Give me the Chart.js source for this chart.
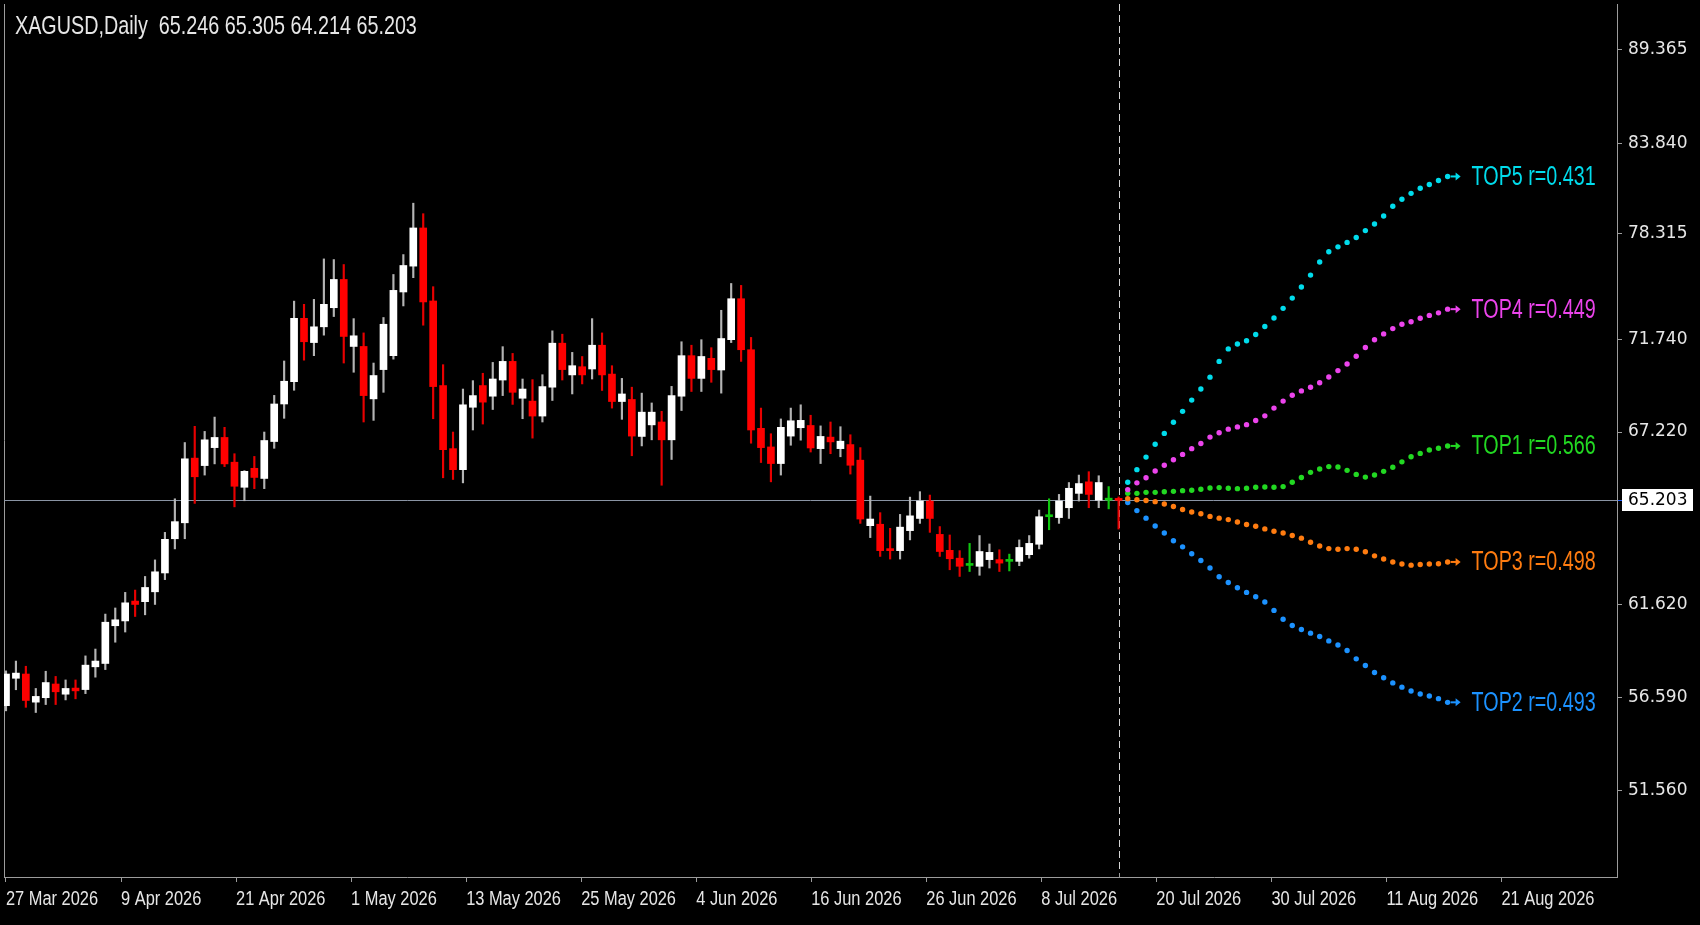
<!DOCTYPE html>
<html>
<head>
<meta charset="utf-8">
<title>XAGUSD Daily</title>
<script src="https://cdn.jsdelivr.net/npm/chart.js@4.4.1/dist/chart.umd.min.js"></script>
<style>
    html, body { margin: 0; padding: 0; background: #000; }
    canvas { display: block; background: #000; }
</style>
</head>
<body>
<canvas id="chart" width="1700" height="925"></canvas>
<script>
const symbol = "XAGUSD";
const period = "Daily";

// daily candles, one entry per bar
const open = [
    56.14, 57.62, 57.85, 56.33, 56.57, 57.31, 56.76, 57.09, 57.01, 58.24,
    58.42, 60.46, 60.72, 61.73, 61.71, 62.05, 62.70, 63.88, 64.43, 66.45,
    66.23, 66.76, 67.06, 66.33, 65.59, 66.15, 65.85, 66.94, 68.59, 69.68,
    73.06, 71.59, 72.53, 73.72, 75.48, 71.40, 71.40, 68.84, 70.27, 70.95,
    74.70, 76.31, 78.68, 74.14, 69.49, 66.73, 66.11, 68.43, 69.49, 68.97,
    69.76, 70.67, 68.87, 68.73, 68.00, 69.41, 71.56, 70.01, 70.41, 70.30,
    71.46, 70.05, 68.71, 68.81, 67.09, 67.57, 67.71, 66.99, 68.97, 70.95,
    69.84, 70.82, 70.25, 71.73, 74.28, 71.24, 67.40, 66.78, 66.29, 67.10,
    67.43, 67.54, 66.73, 67.07, 66.73, 66.85, 66.39, 64.33, 64.38, 63.53,
    63.47, 64.16, 64.58, 65.18, 64.03, 63.48, 63.21, 62.96, 62.93, 63.16,
    63.16, 63.10, 63.10, 63.33, 63.69, 64.64, 64.61, 64.95, 65.41, 65.75,
    65.21, 65.21, 65.246
];
const high = [
    58.02, 58.55, 58.27, 57.07, 58.00, 57.72, 57.53, 57.53, 58.83, 59.20,
    61.09, 61.42, 62.03, 62.11, 62.58, 63.15, 64.10, 65.25, 66.91, 67.50,
    67.25, 67.95, 67.45, 66.58, 66.08, 66.50, 67.22, 69.01, 70.69, 74.13,
    73.93, 74.24, 76.76, 76.72, 76.41, 73.04, 72.15, 70.59, 73.11, 75.79,
    77.03, 80.19, 79.55, 75.03, 70.51, 67.22, 69.32, 69.73, 70.09, 70.62,
    71.39, 71.06, 69.81, 69.78, 70.02, 72.28, 72.07, 71.11, 70.91, 73.04,
    72.15, 70.46, 69.84, 69.41, 69.12, 68.64, 68.23, 69.45, 71.63, 71.46,
    71.73, 71.34, 73.56, 75.23, 75.11, 71.87, 68.39, 67.17, 67.86, 68.39,
    68.55, 68.04, 67.52, 67.71, 67.48, 67.14, 66.76, 65.33, 64.78, 64.24,
    64.72, 65.30, 65.46, 65.36, 64.30, 64.01, 63.47, 63.72, 63.99, 63.70,
    63.50, 63.35, 63.84, 63.99, 64.87, 65.25, 65.38, 65.73, 65.95, 66.05,
    65.93, 65.61, 65.305
];
const low = [
    55.86, 57.00, 56.05, 55.77, 56.20, 56.20, 56.45, 56.51, 56.79, 57.68,
    58.09, 59.57, 60.12, 60.96, 61.05, 61.61, 62.47, 63.53, 63.88, 65.10,
    65.95, 66.28, 66.20, 64.98, 65.19, 65.55, 65.55, 66.74, 67.89, 69.26,
    70.73, 70.95, 72.01, 73.17, 70.59, 70.14, 67.71, 67.79, 69.16, 70.78,
    73.83, 75.59, 72.63, 67.87, 65.87, 65.82, 65.72, 67.32, 67.61, 68.32,
    69.00, 68.57, 67.87, 67.04, 67.71, 68.76, 69.76, 69.08, 69.57, 69.81,
    69.25, 68.39, 67.84, 66.52, 66.81, 66.99, 65.65, 66.41, 68.27, 69.20,
    69.20, 69.65, 69.12, 71.59, 70.67, 66.89, 66.32, 65.75, 65.95, 66.83,
    66.98, 66.63, 66.29, 66.58, 66.49, 65.98, 64.41, 63.92, 63.27, 63.18,
    63.18, 63.84, 64.41, 64.10, 63.27, 62.81, 62.58, 62.75, 62.62, 62.87,
    62.75, 62.77, 62.95, 63.21, 63.53, 64.19, 64.41, 64.58, 65.18, 64.95,
    64.95, 64.91, 64.214
];
const close = [
    57.85, 57.90, 56.42, 56.64, 57.39, 56.89, 57.07, 56.94, 58.33, 58.55,
    60.65, 60.78, 61.67, 61.61, 62.20, 62.74, 63.86, 64.47, 66.43, 65.90,
    66.99, 67.06, 66.28, 65.62, 66.06, 65.88, 66.97, 68.59, 69.70, 73.06,
    71.63, 72.53, 73.93, 75.48, 71.93, 71.97, 69.00, 69.98, 72.69, 74.80,
    76.35, 78.68, 74.08, 69.44, 66.70, 66.11, 68.55, 69.00, 68.68, 69.81,
    70.67, 69.16, 69.32, 68.00, 69.44, 71.56, 70.27, 70.46, 70.01, 71.46,
    70.01, 68.71, 69.08, 67.10, 68.19, 68.19, 66.99, 69.00, 70.95, 69.84,
    70.91, 70.27, 71.80, 74.28, 71.24, 67.32, 66.76, 66.29, 67.45, 67.77,
    67.79, 66.75, 67.09, 66.93, 66.95, 66.24, 64.56, 64.56, 63.47, 63.47,
    64.28, 64.67, 65.18, 64.58, 63.44, 63.19, 62.93, 62.96, 63.44, 63.41,
    63.04, 63.10, 63.58, 63.72, 64.64, 64.64, 65.18, 65.56, 65.70, 65.38,
    65.73, 65.21, 65.203
];

// analog projections drawn forward from the last bar
const top1 = [65.41, 65.41, 65.44, 65.44, 65.46, 65.47, 65.49, 65.50, 65.53, 65.57, 65.58, 65.56,
    65.55, 65.56, 65.59, 65.60, 65.59, 65.61, 65.74, 65.88, 66.03, 66.13, 66.20, 66.19,
    66.09, 65.97, 65.89, 65.95, 66.06, 66.18, 66.34, 66.49, 66.59, 66.69, 66.74, 66.81];
const top2 = [65.13, 64.85, 64.59, 64.32, 64.08, 63.81, 63.60, 63.36, 63.13, 62.87, 62.57, 62.37,
    62.19, 62.03, 61.88, 61.70, 61.29, 60.81, 60.47, 60.26, 60.06, 59.88, 59.64, 59.42,
    59.12, 58.67, 58.31, 57.93, 57.65, 57.37, 57.14, 56.93, 56.77, 56.66, 56.52, 56.32];
const top3 = [65.25, 65.22, 65.20, 65.16, 65.08, 64.99, 64.89, 64.80, 64.74, 64.65, 64.59, 64.54,
    64.46, 64.37, 64.31, 64.22, 64.14, 64.08, 63.99, 63.90, 63.76, 63.63, 63.54, 63.52,
    63.54, 63.52, 63.43, 63.29, 63.18, 63.08, 63.01, 62.97, 62.99, 63.01, 63.02, 63.08];
const top4 = [65.52, 65.72, 65.87, 66.07, 66.24, 66.40, 66.56, 66.73, 66.88, 67.07, 67.20, 67.36,
    67.47, 67.58, 67.78, 68.01, 68.39, 68.73, 69.02, 69.23, 69.41, 69.63, 69.91, 70.22,
    70.54, 70.92, 71.35, 71.73, 72.09, 72.42, 72.69, 72.85, 73.06, 73.24, 73.40, 73.63];
const top5 = [65.74, 66.11, 66.48, 66.86, 67.18, 67.70, 68.23, 68.78, 69.32, 69.90, 70.67, 71.28,
    71.52, 71.68, 72.05, 72.55, 73.08, 73.68, 74.32, 75.01, 75.75, 76.57, 77.21, 77.51,
    77.79, 78.09, 78.52, 78.92, 79.41, 80.00, 80.43, 80.79, 81.10, 81.33, 81.57, 81.82];
const topNames = ["TOP5", "TOP4", "TOP1", "TOP3", "TOP2"];
const topR = ["0.431", "0.449", "0.566", "0.498", "0.493"];
const topSeries = [top5, top4, top1, top3, top2];
const topColors = ["#00dcec", "#ec44ec", "#22d822", "#ff7c10", "#1c92ff"];

const xTickLabels = ["27 Mar 2026", "9 Apr 2026", "21 Apr 2026", "1 May 2026", "13 May 2026",
    "25 May 2026", "4 Jun 2026", "16 Jun 2026", "26 Jun 2026", "8 Jul 2026", "20 Jul 2026",
    "30 Jul 2026", "11 Aug 2026", "21 Aug 2026"];
const yTickValues = [51.560, 56.590, 61.620, 67.220, 71.740, 78.315, 83.840, 89.365];

// the price axis of the terminal is not evenly spaced: each labelled price sits at its own
// height (fraction of the plot height), and the scale interpolates between them
const yKnotValues = [46.88, 51.56, 56.59, 61.62, 65.203, 67.22, 71.74, 78.315, 83.84, 89.365, 92.03];
const yKnotPlaces = [0, 0.0992, 0.2058, 0.3124, 0.4314, 0.5097, 0.6157, 0.7366, 0.8404, 0.9481, 1];

const xTickEvery = 11.58;   // bars between date labels
const projStep = 0.92;      // bars between projection dots

const SANS = '"Liberation Sans", Arial, sans-serif';
const TEXT = "#e6e6e6";
const FRAME = "#9c9c9c";

// no narrow face is installed, so squeeze a regular one
function narrowText(ctx, text, x, y, size, color, squeeze = 0.82) {
    ctx.save();
    ctx.font = size + "px " + SANS;
    ctx.fillStyle = color;
    ctx.textBaseline = "middle";
    ctx.translate(x, y);
    ctx.scale(squeeze, 1);
    ctx.fillText(text, 0, 0);
    ctx.restore();
}

function interp(v, xs, ys) {
    if (v <= xs[0]) return ys[0] + (v - xs[0]) * (ys[1] - ys[0]) / (xs[1] - xs[0]);
    for (let i = 1; i < xs.length; i++) {
        if (v <= xs[i] || i === xs.length - 1) {
            return ys[i - 1] + (v - xs[i - 1]) * (ys[i] - ys[i - 1]) / (xs[i] - xs[i - 1]);
        }
    }
}

const LinearScale = Chart.LinearScale || Chart.registry.getScale("linear");
class SegmentScale extends LinearScale {
    static id = "segment";
    getPixelForValue(value) {
        if (value === null || value === undefined) return NaN;
        return this.getPixelForDecimal(interp(value, yKnotValues, yKnotPlaces));
    }
    getValueForPixel(pixel) {
        return interp(this.getDecimalForPixel(pixel), yKnotPlaces, yKnotValues);
    }
}
Chart.register(SegmentScale);

const lastBar = close.length - 1;
const bodyColor = close.map((c, i) => c > open[i] ? "#ffffff" : c < open[i] ? "#ff0000" : "#10c810");
const wickColor = close.map((c, i) => c > open[i] ? "#b4b4b4" : c < open[i] ? "#e80000" : "#10c810");

const overlay = {
    id: "overlay",
    beforeDatasetsDraw(chart) {
        const { ctx, chartArea: a, scales: { x, y } } = chart;
        ctx.save();
        ctx.lineWidth = 1;
        ctx.strokeStyle = FRAME;
        ctx.beginPath();
        ctx.moveTo(a.left + 0.5, a.top);
        ctx.lineTo(a.left + 0.5, a.bottom);
        ctx.stroke();

        const py = Math.round(y.getPixelForValue(close[lastBar])) + 0.5;
        ctx.strokeStyle = "#8a94a4";
        ctx.beginPath();
        ctx.moveTo(a.left, py);
        ctx.lineTo(a.right, py);
        ctx.stroke();

        const px = Math.round(x.getPixelForValue(lastBar)) + 0.5;
        ctx.strokeStyle = "#d4d4d4";
        ctx.setLineDash([7, 4]);
        ctx.beginPath();
        ctx.moveTo(px, a.top);
        ctx.lineTo(px, a.bottom);
        ctx.stroke();
        ctx.setLineDash([]);
        ctx.strokeStyle = FRAME;
        ctx.beginPath();
        ctx.moveTo(px, a.bottom);
        ctx.lineTo(px, a.bottom - 4);
        ctx.stroke();
        ctx.restore();
    },
    afterDatasetsDraw(chart) {
        const ctx = chart.ctx;
        topSeries.forEach((s, d) => {
            const pts = chart.getDatasetMeta(d).data;
            const p = pts[pts.length - 1];
            ctx.save();
            ctx.strokeStyle = topColors[d];
            ctx.fillStyle = topColors[d];
            ctx.lineWidth = 2;
            ctx.beginPath();
            ctx.moveTo(p.x + 3, p.y);
            ctx.lineTo(p.x + 9, p.y);
            ctx.stroke();
            ctx.beginPath();
            ctx.moveTo(p.x + 8, p.y - 4);
            ctx.lineTo(p.x + 13, p.y);
            ctx.lineTo(p.x + 8, p.y + 4);
            ctx.closePath();
            ctx.fill();
            ctx.restore();
            narrowText(ctx, topNames[d] + " r=" + topR[d], p.x + 24, p.y + 1, 27, topColors[d], 0.73);
        });
    },
    afterDraw(chart) {
        const { ctx, chartArea: a, scales: { x, y } } = chart;
        const ohlc = [open, high, low, close].map(arr => arr[lastBar].toFixed(3)).join(" ");
        narrowText(ctx, symbol + "," + period + "  " + ohlc, 15, 27, 25, TEXT, 0.79);

        x.ticks.forEach((t, i) => {
            narrowText(ctx, xTickLabels[i], x.getPixelForValue(t.value), a.bottom + 22, 20, TEXT);
        });

        // last price tag on the axis
        const py = Math.round(y.getPixelForValue(close[lastBar]));
        ctx.save();
        ctx.fillStyle = "#ffffff";
        ctx.fillRect(a.right + 5, py - 11, 71, 22);
        ctx.strokeStyle = "#2060ff";
        ctx.beginPath();
        ctx.moveTo(a.right + 1, py + 0.5);
        ctx.lineTo(a.right + 5, py + 0.5);
        ctx.stroke();
        ctx.fillStyle = "#000000";
        ctx.font = "17px 'DejaVu Sans'";
        ctx.textBaseline = "middle";
        ctx.fillText(close[lastBar].toFixed(3), a.right + 11, py + 1);
        ctx.restore();
    }
};

const ctx = document.getElementById("chart").getContext("2d");

new Chart(ctx, {
    data: {
        datasets: [
            ...topSeries.map((s, d) => ({
                type: "line",
                data: s.map((v, k) => ({ x: lastBar + (k + 1) * projStep, y: v })),
                showLine: false,
                pointRadius: 2.7,
                pointBorderWidth: 0,
                pointBackgroundColor: topColors[d],
                order: 0
            })),
            {
                type: "bar",
                data: open.map((o, i) => ({ x: i, y: [o, close[i]] })),
                backgroundColor: bodyColor,
                barThickness: 7,
                minBarLength: 2,
                grouped: false,
                order: 1
            },
            {
                type: "bar",
                data: low.map((l, i) => ({ x: i, y: [l, high[i]] })),
                backgroundColor: wickColor,
                barThickness: 1.5,
                grouped: false,
                order: 2
            }
        ]
    },
    options: {
        responsive: false,
        animation: false,
        devicePixelRatio: 1,
        layout: { padding: { left: 3, top: 0, right: 0, bottom: 0 } },
        plugins: { legend: { display: false }, tooltip: { enabled: false } },
        scales: {
            x: {
                type: "linear",
                offset: false,
                bounds: "data",
                min: -0.2,
                max: 162.17,
                afterBuildTicks: s => { s.ticks = xTickLabels.map((_, i) => ({ value: i * xTickEvery })); },
                afterFit: s => { s.height = 48; s.paddingLeft = 0; s.paddingRight = 0; },
                grid: { drawOnChartArea: false, offset: false, tickLength: 5, color: FRAME },
                border: { color: FRAME },
                ticks: { display: false }
            },
            y: {
                type: "segment",
                position: "right",
                bounds: "data",
                min: 46.88,
                max: 92.03,
                afterBuildTicks: s => { s.ticks = yTickValues.map(v => ({ value: v })); },
                afterFit: s => { s.width = 83; s.paddingTop = 0; s.paddingBottom = 0; },
                grid: { drawOnChartArea: false, tickLength: 5, color: FRAME },
                border: { color: FRAME },
                ticks: {
                    padding: 6,
                    color: TEXT,
                    font: { family: "DejaVu Sans", size: 17 },
                    callback: v => Number(v).toFixed(3)
                }
            }
        }
    },
    plugins: [overlay]
});
</script>
</body>
</html>
